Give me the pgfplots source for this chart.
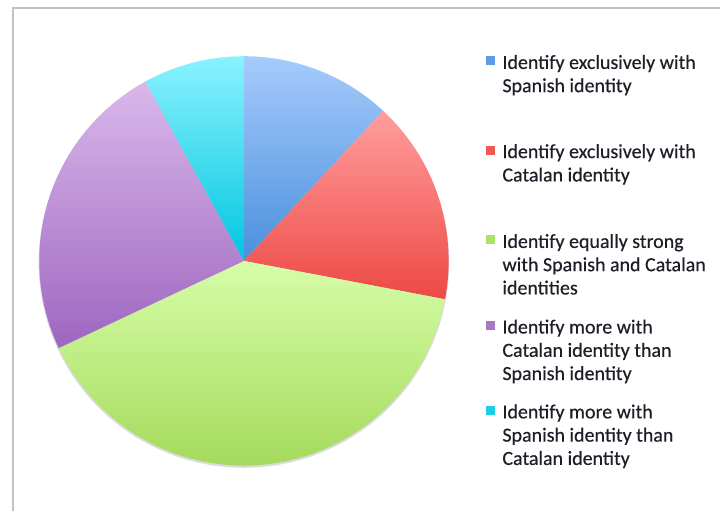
\documentclass[border=0pt]{standalone}
\usepackage{fontspec}
\setmainfont{Carlito}[FakeBold=0.4]
\usepackage{pgfplots}
\pgfplotsset{compat=1.18}
% shares in percent (clockwise from 12 o'clock)
\def\pA{11.9} % exclusively Spanish
\def\pB{16.1} % exclusively Catalan
\def\pC{40.0} % equally
\def\pD{24.0} % more Catalan
\def\pE{8.0}  % more Spanish
\pgfmathsetmacro\aA{90-3.6*\pA}
\pgfmathsetmacro\aB{\aA-3.6*\pB}
\pgfmathsetmacro\aC{\aB-3.6*\pC}
\pgfmathsetmacro\aD{\aC-3.6*\pD}
\pgfmathsetmacro\aE{\aD-3.6*\pE}
\definecolor{blueT}{HTML}{A6CBFC}\definecolor{blueB}{HTML}{4A90DD}
\definecolor{redT}{HTML}{FF9E9E}\definecolor{redB}{HTML}{EE4844}
\definecolor{greenT}{HTML}{D6FDA8}\definecolor{greenB}{HTML}{A4DA5C}
\definecolor{purpT}{HTML}{D9B8EA}\definecolor{purpB}{HTML}{9E66C0}
\definecolor{cyanT}{HTML}{8AF2FF}\definecolor{cyanB}{HTML}{00C6DF}
\definecolor{txt}{HTML}{1E1E28}
\begin{document}
\begin{tikzpicture}[x=1pt,y=1pt]
\path (0,0) rectangle (721,512);
\draw[color=black!24, line width=2.2pt] (13,0) -- (13,504) -- (721,504);
\begin{axis}[at={(39.3pt,45.7pt)}, anchor=south west,
  width=410pt, height=410pt, scale only axis, hide axis,
  xmin=-1, xmax=1, ymin=-1, ymax=1, clip=false]
\addplot[draw=none, fill=black!14, data cs=polar, domain=0:360, samples=181, yshift=-1.6pt] ({x},{1.003}) -- cycle;
\addplot[draw=none, top color=blueT, bottom color=blueB, data cs=polar, domain=\aA:90, samples=40] ({x},{1}) -- (axis cs:0,0) -- cycle;
\addplot[draw=none, top color=redT, bottom color=redB, data cs=polar, domain=\aB:\aA, samples=40] ({x},{1}) -- (axis cs:0,0) -- cycle;
\addplot[draw=none, top color=greenT, bottom color=greenB, data cs=polar, domain=\aC:\aB, samples=80] ({x},{1}) -- (axis cs:0,0) -- cycle;
\addplot[draw=none, top color=purpT, bottom color=purpB, data cs=polar, domain=\aD:\aC, samples=50] ({x},{1}) -- (axis cs:0,0) -- cycle;
\addplot[draw=none, top color=cyanT, bottom color=cyanB, data cs=polar, domain=\aE:\aD, samples=20] ({x},{1}) -- (axis cs:0,0) -- cycle;
\end{axis}
\tikzset{lt/.style={anchor=base west, inner sep=0pt, text=txt, font=\fontsize{20}{23.3}\selectfont}}
\newcommand\sq[2]{\fill[#1] (487,#2+3.5) rectangle (496,#2+12.5);}
% entry 1
\sq{blueB!80!blueT}{443}
\node[lt] at (503,443) {Identify exclusively with};
\node[lt] at (503,419.7) {Spanish identity};
% entry 2
\sq{redB!80!redT}{353.7}
\node[lt] at (503,353.7) {Identify exclusively with};
\node[lt] at (503,330.3) {Catalan identity};
% entry 3
\sq{greenB!80!greenT}{263.7}
\node[lt] at (503,263.7) {Identify equally strong};
\node[lt] at (503,240.4) {with Spanish and Catalan};
\node[lt] at (503,217.1) {identities};
% entry 4
\sq{purpB!80!purpT}{178}
\node[lt] at (503,178) {Identify more with};
\node[lt] at (503,154.7) {Catalan identity than};
\node[lt] at (503,131.4) {Spanish identity};
% entry 5
\sq{cyanB!80!cyanT}{93}
\node[lt] at (503,93) {Identify more with};
\node[lt] at (503,69.7) {Spanish identity than};
\node[lt] at (503,46.4) {Catalan identity};
\end{tikzpicture}
\end{document}
